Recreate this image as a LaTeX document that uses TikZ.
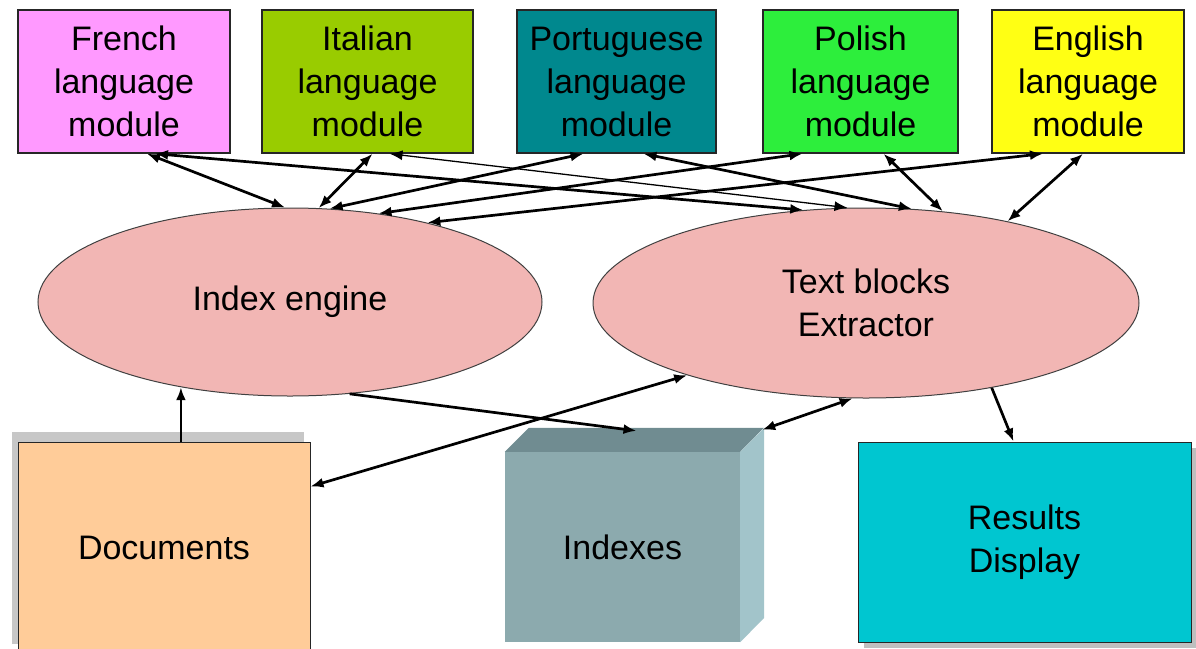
\documentclass[tikz,border=0pt]{standalone}
\usepackage{fontspec}
\setmainfont{Liberation Sans}
\usetikzlibrary{arrows.meta, positioning, shapes.geometric, shadows}
\definecolor{frpink}{RGB}{255,153,255}
\definecolor{itgreen}{RGB}{153,204,0}
\definecolor{ptteal}{RGB}{0,136,142}
\definecolor{plgreen}{RGB}{45,238,60}
\definecolor{enyellow}{RGB}{255,255,20}
\definecolor{enginepink}{RGB}{242,182,180}
\definecolor{docpeach}{RGB}{255,204,153}
\definecolor{cubefront}{RGB}{140,170,174}
\definecolor{cubetop}{RGB}{112,140,145}
\definecolor{cubeside}{RGB}{162,196,202}
\definecolor{rescyan}{RGB}{0,198,208}

\begin{document}
\begin{tikzpicture}[
			x=1pt, y=-1pt,
			font=\fontsize{34}{43}\selectfont,
			module/.style={rectangle, draw=black!85, line width=1.4pt, minimum height=143pt, align=center, inner sep=0pt},
			engine/.style={ellipse, draw=black!75, line width=1pt, fill=enginepink, align=center, inner sep=0pt},
			store/.style={rectangle, draw=black!85, line width=1pt, align=center},
			arrow/.style={-{Latex[length=13pt,width=10pt]}, line width=2.7pt},
			twoway/.style={{Latex[length=13pt,width=10pt]}-{Latex[length=13pt,width=10pt]}, line width=2.7pt}
			]
			\useasboundingbox (0,0) rectangle (1196,648);

			% language modules
			\node[module, fill=frpink, minimum width=212pt] (french) at (124,81.5) {French\\language\\module};
			\node[module, fill=itgreen, minimum width=211pt] (italian) at (367.5,81.5) {Italian\\language\\module};
			\node[module, fill=ptteal, minimum width=199pt] (portuguese) at (616.5,81.5) {Portuguese\\language\\module};
			\node[module, fill=plgreen, minimum width=195pt] (polish) at (860.5,81.5) {Polish\\language\\module};
			\node[module, fill=enyellow, minimum width=192pt] (english) at (1088,81.5) {English\\language\\module};

			% engines
			\node[engine, minimum width=504pt, minimum height=188pt] (ieng) at (290,302) {Index engine};
			\node[engine, minimum width=546pt, minimum height=190pt] (tbx) at (866,303) {Text blocks\\Extractor};

			% documents, indexes and results
			\node[store, fill=docpeach, minimum width=292pt, minimum height=212pt,
				drop shadow={shadow xshift=-6pt, shadow yshift=10pt, fill=black!22, opacity=1}] (docs) at (164,548) {Documents};
			\node[fill=cubefront, minimum width=235pt, minimum height=190pt] (idx) at (622.5,547) {Indexes};
			\fill[cubetop] (idx.north west) -- ++(24,-24) -- ++(235,0) -- (idx.north east) -- cycle;
			\fill[cubeside] (idx.north east) -- ++(24,-24) -- ++(0,190) -- (idx.south east) -- cycle;
			\node[store, fill=rescyan, minimum width=333pt, minimum height=200pt,
				drop shadow={shadow xshift=6pt, shadow yshift=-6pt, fill=black!25, opacity=1}] (results) at (1024.5,542) {Results\\Display};

			% modules <-> index engine
			\draw[twoway] ([xshift=23pt]french.south) -- (ieng.93);
			\draw[twoway] ([xshift=5pt]italian.south) -- (ieng.73);
			\draw[twoway] ([xshift=-33pt]portuguese.south) -- (ieng.67);
			\draw[twoway] ([xshift=-58pt]polish.south) -- (ieng.45);
			\draw[twoway] ([xshift=-45pt]english.south) -- (ieng.30);

			% modules <-> extractor
			\draw[twoway] ([xshift=31pt]french.south) -- (tbx.124);
			\draw[twoway, line width=1.3pt] ([xshift=22pt]italian.south) -- (tbx.101);
			\draw[twoway] ([xshift=27pt]portuguese.south) -- (tbx.64);
			\draw[twoway] ([xshift=23pt]polish.south) -- (tbx.50);
			\draw[twoway] ([xshift=-5pt]english.south) -- (tbx.30);

			% lower part
			\draw[arrow] (ieng.218.5 |- docs.north) -- (ieng.218.5);
			\draw[arrow] (ieng.-57) -- ([shift={(14pt,21pt)}]idx.north);
			\draw[twoway] (tbx.202) -- ([yshift=-45pt]docs.north east);
			\draw[twoway] (tbx.262) -- ([shift={(22pt,22pt)}]idx.north east);
			\draw[arrow] (tbx.-34) -- ([xshift=-11pt]results.north);
		\end{tikzpicture}
\end{document}
